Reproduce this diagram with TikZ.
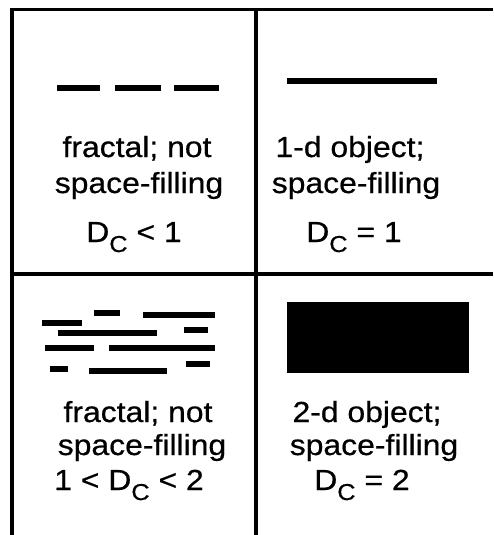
\documentclass[tikz,border=0pt]{standalone}
\usepackage{fontspec}
\setmainfont{Liberation Sans}[FakeStretch=1.1, FakeBold=0.6]
\usetikzlibrary{positioning}
\newcommand{\dsub}{D\raisebox{-5pt}{\fontsize{11.5}{13}\selectfont C}}

\begin{document}
\begin{tikzpicture}[
    x=0.5pt, y=-0.5pt,
    frame/.style={line width=1.6pt, black},
    bar/.style={line width=3pt, black},
    txt/.style={anchor=base, inner sep=0pt, font=\fontsize{14.5}{17}\selectfont}
]
    \fill[white] (0,0) rectangle (493,535);
    \useasboundingbox (0,0) rectangle (493,535);

    % Marco
    \coordinate (ntl) at (12,9.5);
    \coordinate (ntm) at (256,9.5);
    \coordinate (ntr) at (493,9.5);
    \coordinate (nml) at (12,274);
    \coordinate (nmr) at (493,274);
    \coordinate (nbl) at (12,535);
    \coordinate (nbm) at (256,535);
    \draw[frame] (nbl) -- (ntl) -- (ntr);
    \draw[frame] (ntm) -- (nbm);
    \draw[frame] (nml) -- (nmr);

    % Figuras
    \foreach \xa/\xb in {57/100, 115/161, 174/219}
        \draw[bar] (\xa,88) -- (\xb,88);
    \draw[bar] (287,81) -- (437,81);
    \foreach \xa/\xb/\yy in {42/82/323, 94/120/313, 143/215/315, 58/157/333, 184/208/330,
                              45/94/348, 109/215/348, 50/68/369, 89/167/371, 186/210/364}
        \draw[bar, line width=2.7pt] (\xa,\yy) -- (\xb,\yy);
    \fill[black] (287,302) rectangle (469,373);

    % Textos
    \node[txt] (fracA) at (137,157) {fractal; not};
    \node[txt] (fillA) at (139,193) {space-filling};
    \node[txt] (dimA) at (134,242) {\dsub{} < 1};

    \node[txt] (objB) at (350,157) {1-d object;};
    \node[txt] (fillB) at (356,193) {space-filling};
    \node[txt] (dimB) at (354,242) {\dsub{} = 1};

    \node[txt] (fracC) at (138,422) {fractal; not};
    \node[txt] (fillC) at (142,455) {space-filling};
    \node[txt] (dimC) at (129,490) {1 < \dsub{} < 2};

    \node[txt] (objD) at (367,422) {2-d object;};
    \node[txt] (fillD) at (374,455) {space-filling};
    \node[txt] (dimD) at (362,490) {\dsub{} = 2};

\end{tikzpicture}
\end{document}
